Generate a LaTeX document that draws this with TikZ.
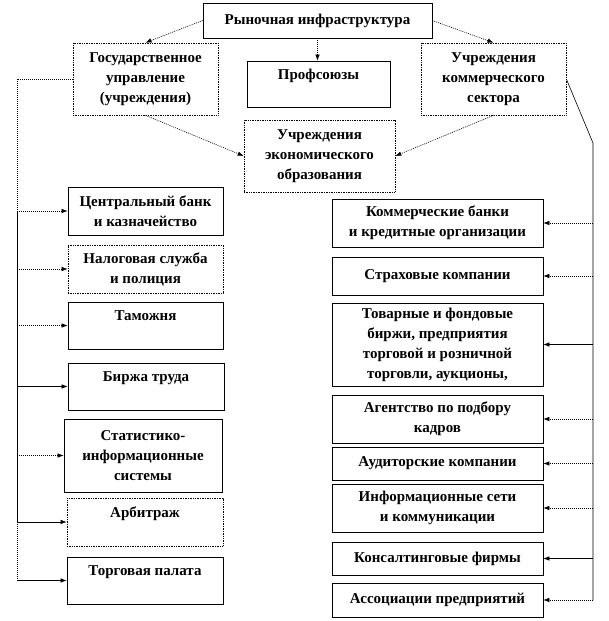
\documentclass[tikz,border=0pt]{standalone}
\usepackage{fontspec}
\setmainfont{Liberation Serif}
\usetikzlibrary{arrows.meta}
\begin{document}
\begin{tikzpicture}[x=1pt,y=-1pt,
 box/.style={draw, line width=0.7pt, inner sep=0pt, align=center, font=\fontsize{15}{20}\selectfont\bfseries},
 dbox/.style={box, dash pattern=on 1pt off 0.7pt},
 con/.style={line width=0.6pt},
 dcon/.style={con, dash pattern=on 1pt off 1pt},
 arr/.style={-{Latex[length=6pt,width=4.5pt]}}]
\useasboundingbox (0,0) rectangle (608,621);
% top level
\node[box, minimum width=229pt, minimum height=35pt] (top) at (317.5,20.5) {Рыночная инфраструктура};
\node[dbox, minimum width=145pt, minimum height=72pt] (gos) at (145.5,79) {Государственное\\управление\\(учреждения)};
\node[box, minimum width=143pt, minimum height=46pt] (prof) at (318.5,84) {Профсоюзы\\\mbox{}};
\node[dbox, minimum width=145pt, minimum height=72pt] (kom) at (493.5,79) {Учреждения\\коммерческого\\сектора};
\node[dbox, minimum width=151pt, minimum height=72pt] (econ) at (319.5,156) {Учреждения\\экономического\\образования};
% left column
\node[box, minimum width=155pt, minimum height=48pt] (cb) at (145.5,211) {Центральный банк\\и казначейство};
\node[dbox, minimum width=155pt, minimum height=48pt] (nal) at (145.5,269) {Налоговая служба\\и полиция};
\node[box, minimum width=155pt, minimum height=47pt] (tam) at (145.5,325.5) {Таможня\\\mbox{}};
\node[box, minimum width=156pt, minimum height=47pt] (bir) at (146,386.5) {Биржа труда\\\mbox{}};
\node[box, minimum width=158pt, minimum height=73pt] (stat) at (143,455.5) {Статистико-\\информационные\\системы};
\node[dbox, minimum width=156pt, minimum height=48pt] (arb) at (145,522) {Арбитраж\\\mbox{}};
\node[box, minimum width=156pt, minimum height=47pt] (torg) at (145,580.5) {Торговая палата\\\mbox{}};
% right column
\node[box, minimum width=211pt, minimum height=48pt] (kb) at (437.5,223) {Коммерческие банки\\и кредитные организации};
\node[box, minimum width=211pt, minimum height=38pt] (str) at (437.5,276) {Страховые компании};
\node[box, minimum width=211pt, minimum height=83pt] (tov) at (437.5,344.5) {Товарные и фондовые\\биржи, предприятия\\торговой и розничной\\торговли, аукционы,};
\node[box, minimum width=211pt, minimum height=48pt] (ag) at (437.5,419) {Агентство по подбору\\кадров};
\node[box, minimum width=211pt, minimum height=33pt] (aud) at (437.5,463.5) {Аудиторские компании};
\node[box, minimum width=211pt, minimum height=48pt] (inf) at (437.5,508) {Информационные сети\\и коммуникации};
\node[box, minimum width=211pt, minimum height=33pt] (kon) at (437.5,558.5) {Консалтинговые фирмы};
\node[box, minimum width=211pt, minimum height=34pt] (ass) at (437.5,600) {Ассоциации предприятий};
% top connectors
\draw[dcon,arr] (top.west) -- (gos.north);
\draw[dcon,arr] (top.south) -- (top.south |- prof.north);
\draw[dcon,arr] (top.east) -- (kom.north);
\draw[dcon,arr] (gos.south) -- (econ.west);
\draw[dcon,arr] (kom.south) -- (econ.east);
% left bus
\coordinate (lt) at (17,79);
\draw[dcon] (gos.west) -- (lt) -- (lt |- cb.west);
\draw[con] (lt |- cb.west) -- (lt |- arb.west);
\draw[dcon] (lt |- arb.west) -- (lt |- torg.west);
\draw[dcon,arr] (lt |- cb.west) -- (cb.west);
\draw[dcon,arr] (lt |- nal.west) -- (nal.west);
\draw[dcon,arr] (lt |- tam.west) -- (tam.west);
\draw[con,arr] (lt |- bir.west) -- (bir.west);
\draw[dcon,arr] (lt |- stat.west) -- (stat.west);
\draw[con,arr] (lt |- arb.west) -- (arb.west);
\draw[con,arr] (lt |- torg.west) -- (torg.west);
% right bus
\coordinate (rt) at (593,143);
\draw[con] (kom.east) -- (rt) -- (rt |- ass.east);
\draw[dcon,arr] (rt |- kb.east) -- (kb.east);
\draw[dcon,arr] (rt |- str.east) -- (str.east);
\draw[con,arr] (rt |- tov.east) -- (tov.east);
\draw[dcon,arr] (rt |- ag.east) -- (ag.east);
\draw[dcon,arr] (rt |- aud.east) -- (aud.east);
\draw[dcon,arr] (rt |- inf.east) -- (inf.east);
\draw[con,arr] (rt |- kon.east) -- (kon.east);
\draw[dcon,arr] (rt |- ass.east) -- (ass.east);
\end{tikzpicture}
\end{document}
